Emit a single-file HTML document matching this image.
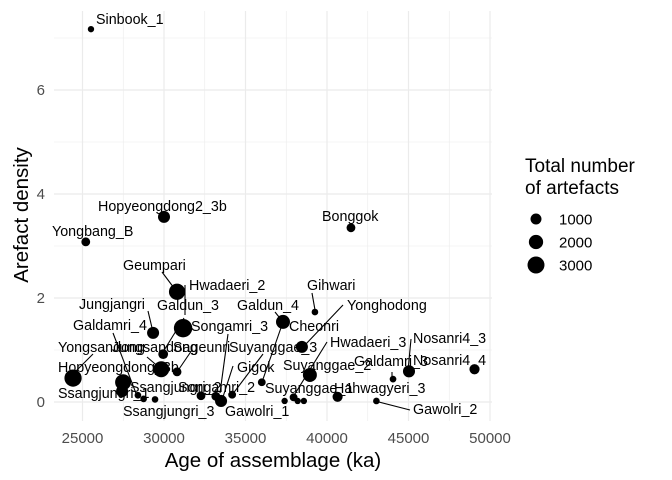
<!DOCTYPE html>
<html><head><meta charset="utf-8"><style>
body{margin:0;background:#fff}
svg{display:block;font-family:"Liberation Sans",Arial,sans-serif}
</style></head><body>
<svg id="c" width="672" height="480"></svg>
<script>
const sites=["Sinbook_1","Hopyeongdong2_3b","Yongbang_B","Bonggok","Hwadaeri_2","Gihwari","Galdun_3","Galdun_4","Jungjangri","Yonghodong","Hwadaeri_3","Sageunri","Hopyeongdong_3b","Jungsandong","Yongsandong","Ssangjungri_2","Ssangjungri_1","Galdamri_4","Ssangjungri_3","Gawolri_1a","Songamri_3","Songamri_2","Gawolri_1","Gigok","Suyanggae_3","Suyanggae_1","Suyanggae_4","Hahwagyeri_3","Gawolri_2","Galdamri_3","Nosanri4_3","Nosanri4_4","Suyanggae_2","Cheonri"];
const ages=[25520,30000,25200,41470,30800,39260,31170,37300,29330,38460,38950,30800,29830,29950,24420,27490,27430,28400,28750,29450,32270,33180,33500,34180,36000,37400,38200,40650,43030,44050,45030,49050,37950,38580];
const density=[7.17,3.56,3.08,3.35,2.12,1.73,1.42,1.54,1.33,1.06,0.52,0.58,0.63,0.92,0.46,0.38,0.21,0.13,0.06,0.05,0.12,0.11,0.02,0.14,0.38,0.02,0.02,0.10,0.02,0.44,0.59,0.63,0.09,0.02];
const counts=[50,1300,500,500,2700,100,3600,1900,1300,1300,1900,500,2600,700,3100,2600,1300,100,100,100,500,500,1300,300,300,50,50,800,100,100,1300,800,300,50];
const legendVals=[1000,2000,3000];
const xTicks=[25000,30000,35000,40000,45000,50000];
const yTicks=[0,2,4,6];
// label layout (pixel placement of repelled labels, not data)
const labelLayout=[
["Sinbook_1",96,24],["Hopyeongdong2_3b",98,211],["Yongbang_B",52,236],["Bonggok",322,221],
["Geumpari",123,270],["Hwadaeri_2",189,290],["Gihwari",307,290],["Jungjangri",79,309],
["Galdun_3",157,310],["Galdun_4",237,310],["Yonghodong",347,310],["Galdamri_4",73,330],
["Songamri_3",191,331],["Cheonri",289,331],["Hwadaeri_3",330,347],["Yongsandong",58,352],
["Jungsandong",112,352],["Sageunri",173,352],["Suyanggae_3",229,352],["Nosanri4_3",413,343],
["Galdamri_3",354,366],["Nosanri4_4",413,365],["Hopyeongdong_3b",58,372],["Gigok",237,372],
["Suyanggae_2",283,370],["Ssangjungri_2",130,392],["Songamri_2",178,392],["Suyanggae_1",265,393],
["Hahwagyeri_3",334,393],["Ssangjungri_1",58,398],["Ssangjungri_3",123,416],["Gawolri_1",225,416],
["Gawolri_2",413,414]];
const segs=[[162,272,177,292],[148,311,153,332],[113,333,137,396],[93,354,75,372],[228,334,220,393],
[233,366,222,400],[263,354,232,395],[283,322,262,382],[312,293,315,310],[343,305,305,345],
[327,342,293,397],[275,312,283,322],[411,339,408,371],[375,401,410,410],[392,379,392,372],
[192,350,177,372],[185,285,185,315],[184,318,163,352],[147,357,161,369]];

const NS="http://www.w3.org/2000/svg";
const svg=document.getElementById('c');
function el(t,a,p){const e=document.createElementNS(NS,t);for(const k in a)e.setAttribute(k,a[k]);(p||svg).appendChild(e);return e;}
const X=v=>82.5+(v-25000)*(407.5/25000);
const Y=v=>402-52*v;
const R=n=>Math.sqrt(9+0.021*n);
const L=54,Rt=492,T=11,B=421;
const grid=el('g',{});


[27500,32500,37500,42500,47500].forEach(v=>el('line',{x1:X(v),x2:X(v),y1:T,y2:B,stroke:'#ebebeb','stroke-width':0.6},grid));
[1,3,5,7].forEach(v=>el('line',{x1:L,x2:Rt,y1:Y(v),y2:Y(v),stroke:'#ebebeb','stroke-width':0.6},grid));
xTicks.forEach(v=>{el('line',{x1:X(v),x2:X(v),y1:T,y2:B,stroke:'#ebebeb','stroke-width':1.2},grid);
 const t=el('text',{x:X(v),y:443,'text-anchor':'middle','font-size':15,fill:'#4d4d4d'});t.textContent=v;
 
 });
yTicks.forEach(v=>{el('line',{x1:L,x2:Rt,y1:Y(v),y2:Y(v),stroke:'#ebebeb','stroke-width':1.2},grid);
 const t=el('text',{x:45,y:Y(v)+5,'text-anchor':'end','font-size':15,fill:'#4d4d4d'});t.textContent=v;
 
 });
const sg=el('g',{stroke:'#000','stroke-width':1.1});


segs.forEach(s=>el('line',{x1:s[0],y1:s[1],x2:s[2],y2:s[3]},sg));
sites.forEach((s,i)=>{const c=el('circle',{cx:X(ages[i]),cy:Y(density[i]),r:R(counts[i]),fill:'#000'});
 
 });
labelLayout.forEach(l=>{const t=el('text',{x:l[1],y:l[2],'font-size':14.3,fill:'#000'});t.textContent=l[0];
 
 });
const xt=el('text',{x:273,y:467,'text-anchor':'middle','font-size':20.5});xt.textContent='Age of assemblage (ka)';


const yt=el('text',{x:0,y:0,'text-anchor':'middle','font-size':20.5,transform:'translate(28,215) rotate(-90)'});yt.textContent='Arefact density';


const lg=el('g',{});


const lt1=el('text',{x:525,y:172,'font-size':19},lg);lt1.textContent='Total number';


const lt2=el('text',{x:525,y:194,'font-size':19},lg);lt2.textContent='of artefacts';


legendVals.forEach((v,i)=>{const y=219+23*i;
 const c=el('circle',{cx:536,cy:y,r:R(v),fill:'#000'},lg);
 
 
 const t=el('text',{x:559,y:y+5.5,'font-size':15},lg);t.textContent=v;
 
 });
</script>
</body></html>
